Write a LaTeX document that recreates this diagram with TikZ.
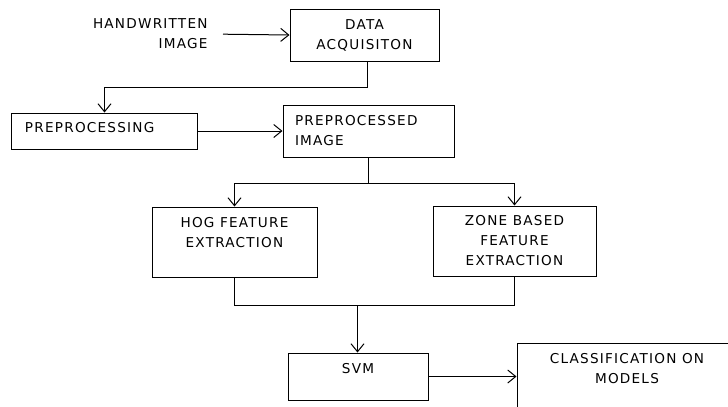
\documentclass[tikz,border=0pt]{standalone}
\usepackage{fontspec}
\setmainfont{DejaVu Sans}[LetterSpace=9]
\usetikzlibrary{arrows.meta}
\begin{document}
\begin{tikzpicture}[x=1bp, y=-1bp, line width=1bp,
					box/.style = {draw, rectangle, inner sep=0pt, align=center, font=\fontsize{13.6bp}{20bp}\selectfont},
					plain/.style = {inner sep=0pt, align=right, font=\fontsize{13.6bp}{20bp}\selectfont},
					arr/.style = {-{Straight Barb[length=8bp,width=13bp]}}]
					
					\useasboundingbox (0,0) rectangle (728,406);
					\clip (0,0) rectangle (728,406);
					
					\node[plain, anchor=east] (hw) at (208,34) {HANDWRITTEN\\IMAGE};
					\node[box, minimum width=149bp, minimum height=52bp] (acq) at (364.5,35) {DATA\\ACQUISITON};
					\node[box, minimum width=185bp, minimum height=36bp, text width=159bp, align=left, text height=9.8bp, text depth=6.5bp] (pre) at (104.5,131) {PREPROCESSING};
					\node[box, minimum width=171bp, minimum height=52bp, text width=147bp, align=left] (ppi) at (368.5,131) {PREPROCESSED\\IMAGE};
					\node[box, minimum width=165bp, minimum height=70bp, text height=29.3bp, text depth=18bp] (hog) at (234.5,242) {HOG FEATURE\\EXTRACTION};
					\node[box, minimum width=163bp, minimum height=70bp] (zone) at (514.5,241) {ZONE BASED\\FEATURE\\EXTRACTION};
					\node[box, minimum width=140bp, minimum height=47bp, text height=9.8bp, text depth=15.5bp] (svm) at (358,376.5) {SVM};
					\node[box, minimum width=220bp, minimum height=90bp, text height=29.3bp, text depth=38bp] (cls) at (627,388) {CLASSIFICATION ON\\MODELS};
					
					\coordinate (mrg) at (357.5,305.5);
					
					\draw[arr, shorten <=15bp] (hw.east) to (acq.west);
					\draw[arr] ([xshift=2.5bp]acq.south) -- ++(0,26) -| (pre.north);
					\draw[arr] (pre.east) to (ppi.west);
					\draw[arr] (ppi.south) -- ++(0,26) -| (hog.north);
					\draw[arr] (ppi.south) -- ++(0,26) -| (zone.north);
					\draw (hog.south) |- (mrg) -| (zone.south);
					\draw[arr] (mrg) to (mrg |- svm.north);
					\draw[arr] (svm.east) to (svm.east -| cls.west);
					
				\end{tikzpicture}
\end{document}
